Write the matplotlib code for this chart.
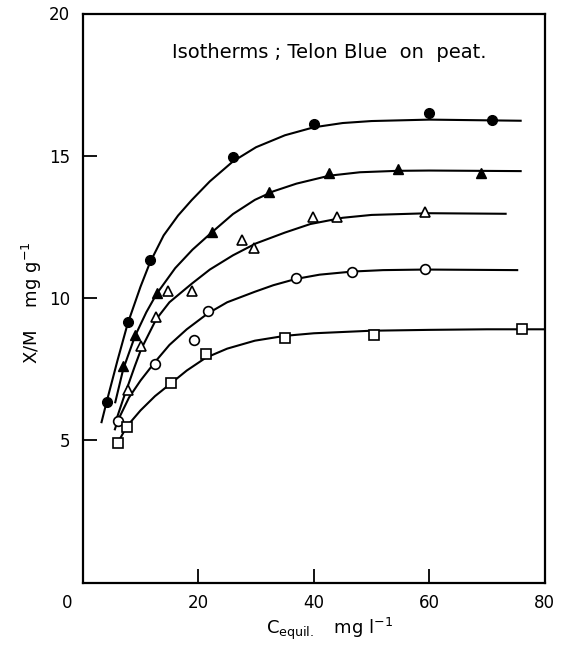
import matplotlib
matplotlib.use("Agg")
import matplotlib.pyplot as plt
import matplotlib.transforms as mtransforms

# ---- measured data points (C_equil, X/M) ----
fc_x = [4.14, 7.77, 11.64, 26.0, 40.0, 60.0, 70.8]
fc_y = [6.36, 9.17, 11.34, 14.96, 16.12, 16.49, 16.26]

ft_x = [7.01, 9.04, 12.8, 22.3, 32.3, 42.7, 54.5, 68.9]
ft_y = [7.61, 8.70, 10.19, 12.33, 13.72, 14.40, 14.52, 14.38]

ot_x = [7.88, 10.08, 12.68, 14.7, 18.85, 27.5, 29.7, 39.9, 44.1, 59.3]
ot_y = [6.77, 8.31, 9.32, 10.26, 10.26, 12.04, 11.75, 12.84, 12.86, 13.03]

oc_x = [6.04, 12.5, 19.3, 21.6, 36.9, 46.7, 59.3]
oc_y = [5.68, 7.67, 8.52, 9.54, 10.69, 10.93, 11.01]

sq_x = [6.04, 7.6, 15.27, 21.3, 35.0, 50.4, 76.1]
sq_y = [4.91, 5.48, 7.00, 8.03, 8.61, 8.70, 8.90]

# ---- hand-drawn isotherm curves ----
fc_cx = [3.2, 4.14, 6.0, 7.77, 10.0, 11.64, 14.0, 16.5, 18.85, 22.0, 26.0, 30.0, 35.0, 40.0, 45.0, 50.0, 60.0, 76.0]
fc_cy = [5.6, 6.36, 7.8, 9.1, 10.4, 11.25, 12.2, 12.9, 13.44, 14.1, 14.8, 15.3, 15.72, 16.0, 16.15, 16.22, 16.27, 16.23]

ft_cx = [5.58, 7.0, 9.04, 11.0, 12.8, 16.0, 19.0, 22.3, 26.0, 29.8, 33.0, 37.0, 42.7, 48.0, 54.5, 60.0, 76.0]
ft_cy = [6.3, 7.5, 8.66, 9.5, 10.15, 11.05, 11.7, 12.3, 12.95, 13.45, 13.75, 14.02, 14.3, 14.42, 14.47, 14.48, 14.46]

ot_cx = [5.6, 7.0, 9.0, 10.1, 12.7, 15.0, 18.85, 22.0, 26.0, 30.0, 35.0, 39.4, 45.0, 50.0, 60.0, 73.4]
ot_cy = [5.6, 6.45, 7.6, 8.2, 9.25, 9.85, 10.5, 11.0, 11.5, 11.92, 12.3, 12.6, 12.82, 12.92, 12.98, 12.96]

oc_cx = [5.5, 6.04, 8.0, 10.0, 12.5, 15.0, 18.0, 21.6, 25.0, 29.8, 33.0, 36.9, 41.0, 46.7, 52.0, 59.3, 75.4]
oc_cy = [5.35, 5.68, 6.5, 7.1, 7.75, 8.35, 8.9, 9.45, 9.85, 10.22, 10.45, 10.67, 10.82, 10.93, 10.98, 11.0, 10.98]

sq_cx = [5.9, 7.6, 10.0, 12.5, 15.27, 18.0, 21.3, 25.0, 29.8, 35.0, 40.0, 50.0, 60.0, 70.0, 80.0]
sq_cy = [4.85, 5.48, 6.05, 6.55, 7.0, 7.45, 7.9, 8.22, 8.5, 8.67, 8.76, 8.85, 8.88, 8.9, 8.9]

xticks = [0, 20, 40, 60, 80]
yticks = [5, 10, 15, 20]

title_text = "Isotherms ; Telon Blue  on  peat."
xlabel_text = r"C$_{\mathrm{equil.}}$   mg l$^{-1}$"
ylabel_text = r"X/M    mg g$^{-1}$"

plt.rcParams['font.family'] = ['DejaVu Sans']
plt.rcParams['mathtext.fontset'] = 'dejavusans'

fig = plt.figure(figsize=(5.61, 6.51), dpi=100)
ax = fig.add_axes([82.8 / 561, 68.5 / 651, 462 / 561, 569 / 651])

lw_curve = 1.5
for cx, cy in [(fc_cx, fc_cy), (ft_cx, ft_cy), (ot_cx, ot_cy), (oc_cx, oc_cy), (sq_cx, sq_cy)]:
    ax.plot(cx, cy, color='black', lw=lw_curve, solid_capstyle='butt', zorder=2)

ms = 7
ax.plot(fc_x, fc_y, 'o', ms=ms, mfc='black', mec='black', zorder=3)
ax.plot(ft_x, ft_y, '^', ms=ms, mfc='black', mec='black', zorder=3)
ax.plot(ot_x, ot_y, '^', ms=ms, mfc='white', mec='black', mew=1.2, zorder=3)
ax.plot(oc_x, oc_y, 'o', ms=ms, mfc='white', mec='black', mew=1.2, zorder=3)
ax.plot(sq_x, sq_y, 's', ms=6.5, mfc='white', mec='black', mew=1.2, zorder=3)

ax.set_xlim(0, 80)
ax.set_ylim(0, 20)
ax.set_xticks(xticks)
ax.set_xticklabels([str(v) for v in xticks])
ax.set_yticks(yticks)
ax.set_yticklabels([str(v) for v in yticks])

ax.tick_params(direction='in', length=10, width=1.3, labelsize=12, colors='black')
ax.tick_params(axis='x', pad=8)
ax.tick_params(axis='y', pad=9)

# shift the shared origin "0" label left of the corner
lab0 = ax.get_xticklabels()[0]
lab0.set_transform(lab0.get_transform() + mtransforms.ScaledTranslation(-16 / 100, 0, fig.dpi_scale_trans))

for s in ax.spines.values():
    s.set_linewidth(1.6)

ax.text(0.533, 0.9306, title_text, transform=ax.transAxes, ha='center', va='center', fontsize=14)

ax.set_xlabel(xlabel_text, fontsize=13)
ax.xaxis.set_label_coords(0.533, -0.058)
ax.set_ylabel(ylabel_text, fontsize=13)
ax.yaxis.set_label_coords(-0.085, 0.491)

fig.savefig("out.png", dpi=100)
